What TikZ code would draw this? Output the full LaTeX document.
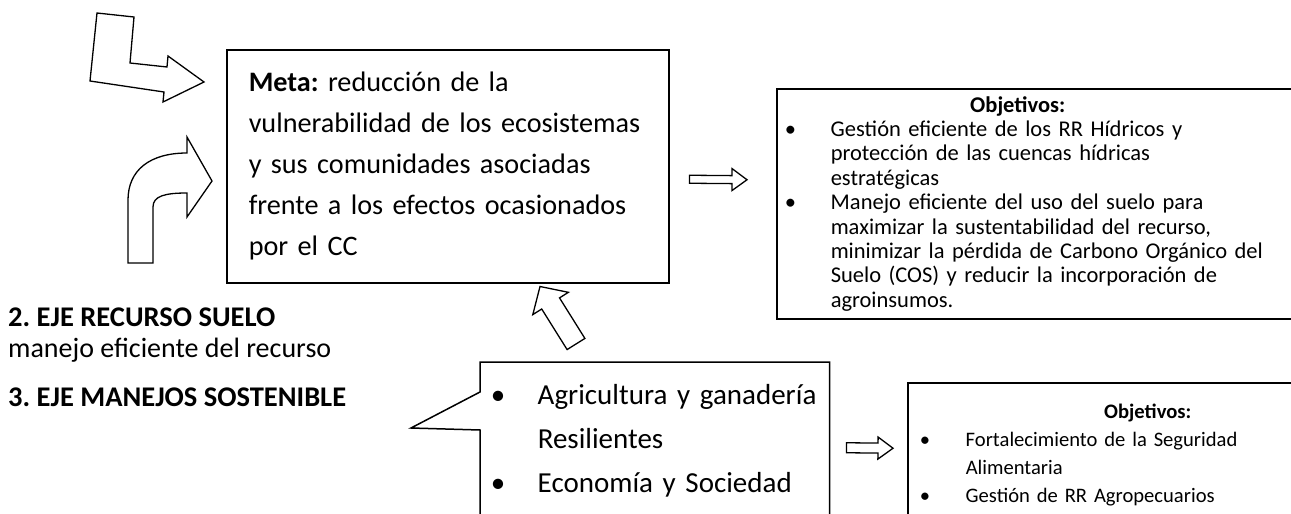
\documentclass[tikz,border=0pt]{standalone}
\usepackage{fontspec}
\setmainfont{Carlito}
\usetikzlibrary{calc}
\setlength{\parindent}{0pt}
\frenchspacing
\tikzset{
  box/.style={draw, line width=1.5pt, fill=white, align=left, inner ysep=0pt},
  hollow/.style={draw, line width=1.3pt, fill=white, line join=miter},
  eje/.style={anchor=base west, inner sep=0pt, font=\fontsize{28}{34}\selectfont},
}
% hollow block arrow: tail, tip, half shaft, half head, head length
\newcommand{\hollowarrow}[5]{%
  \draw[hollow] ($(#1)!#3!90:(#2)$)
    -- ($(#2)!#5!(#1)!#3!-90:(#1)$) -- ($(#2)!#5!(#1)!#4!-90:(#1)$)
    -- (#2)
    -- ($(#2)!#5!(#1)!#4!90:(#1)$) -- ($(#2)!#5!(#1)!#3!90:(#1)$)
    -- ($(#1)!#3!-90:(#2)$) -- cycle;}
\newcommand{\bul}{\makebox[46pt][l]{\textbullet}}
\newcommand{\ind}{\hspace*{46pt}}

\begin{document}
\begin{tikzpicture}[x=1pt, y=-1pt]
	\useasboundingbox (0,0) rectangle (1291,514);
	\clip (0,0) rectangle (1291,514);

	%% the goal box and its two objective boxes
	\node[box, anchor=north west, minimum width=442pt, minimum height=233pt,
	      text width=398pt, inner xsep=22pt, font=\fontsize{28.2}{41}\selectfont]
	  (meta) at (226,49)
	  {\textbf{Meta:} reducción de la\par vulnerabilidad de los ecosistemas\par
	   y sus comunidades asociadas\par frente a los efectos ocasionados\par por el CC};
	\node[box, anchor=north west, minimum width=530pt, minimum height=230pt,
	      text width=514pt, inner xsep=8pt, font=\fontsize{22.5}{24.4}\selectfont]
	  (obj1) at (776,88)
	  {\makebox[466pt]{\bfseries Objetivos:}\par
	   \bul Gestión eficiente de los RR Hídricos y\par
	   \ind protección de las cuencas hídricas\par
	   \ind estratégicas\par
	   \bul Manejo eficiente del uso del suelo para\par
	   \ind maximizar la sustentabilidad del recurso,\par
	   \ind minimizar la pérdida de Carbono Orgánico del\par
	   \ind Suelo (COS) y reducir la incorporación de\par
	   \ind agroinsumos.};
	\node[box, draw=none, fill=none, anchor=north west, minimum width=338pt,
	      minimum height=156pt, text width=328pt, inner xsep=10pt,
	      font=\fontsize{29}{44}\selectfont]
	  (box2) at (480,362)
	  {\makebox[47pt][l]{\textbullet}Agricultura y ganadería\par
	   \hspace*{47pt}Resilientes\par
	   \makebox[47pt][l]{\textbullet}Economía y Sociedad};
	\node[box, anchor=north west, minimum width=480pt, minimum height=145pt,
	      text width=456pt, inner xsep=12pt, font=\fontsize{20.6}{28}\selectfont]
	  (obj2) at (907,382)
	  {\makebox[456pt]{\bfseries Objetivos:}\par
	   \bul Fortalecimiento de la Seguridad\par
	   \ind Alimentaria\par
	   \bul Gestión de RR Agropecuarios};

	%% callout outline of the second box
	\coordinate (ptip) at (411,428);
	\draw[line width=1.5pt, line join=miter]
	  ($(box2.north west)+(0,30)$) -- (box2.north west) -- (box2.north east)
	  -- (box2.south east) -- (box2.south west) -- ($(box2.north west)+(0,68)$)
	  -- (ptip) -- cycle;

	%% axis labels
	\node[eje, font=\fontsize{28.5}{34}\selectfont\bfseries] (eje2) at (8,326) {2. EJE RECURSO SUELO};
	\node[eje] (eje2b) at (8,357) {manejo eficiente del recurso};
	\node[eje, font=\fontsize{28.5}{34}\selectfont\bfseries] (eje3) at (8,406) {3. EJE MANEJOS SOSTENIBLE};

	%% block arrows
	\coordinate (a1) at ($(meta.east)+(20,13)$);
	\coordinate (b1) at ($(obj1.west)+(-29,-24)$);
	\hollowarrow{a1}{b1}{4pt}{11pt}{15pt}
	\coordinate (a2) at ($(box2.east)+(17,7)$);
	\coordinate (b2) at ($(obj2.west)+(-14,-7)$);
	\hollowarrow{a2}{b2}{5pt}{11pt}{15pt}
	\coordinate (a3) at ($(box2.north west)+(96,-18)$);
	\coordinate (b3) at ($(meta.south west)+(314,3)$);
	\hollowarrow{a3}{b3}{10.5pt}{21pt}{20pt}

	%% bent arrow and curved arrow towards the goal
	\draw[hollow] (97,13) -- (134,17) -- (130,63) -- (167,67) -- (168,56)
	  -- (204,82) -- (163,102) -- (164,92) -- (90,81) -- cycle;
	\draw[hollow] (128,263) -- (128,200) .. controls (128,170) and (150,153) .. (187,153)
	  -- (187,137) -- (212,181) -- (187,217) -- (187,193)
	  .. controls (165,193) and (153,196) .. (153,207) -- (153,263) -- cycle;
\end{tikzpicture}
\end{document}
